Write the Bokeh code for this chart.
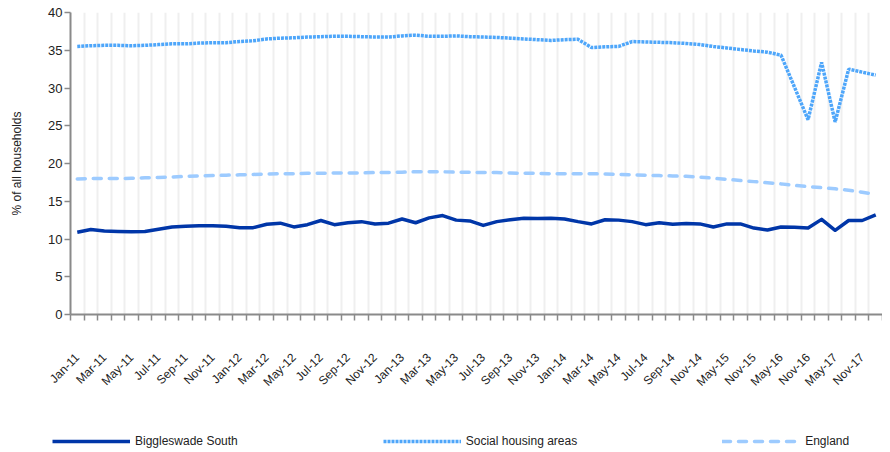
from math import pi
from bokeh.plotting import figure
from bokeh.layouts import column
from bokeh.models import Range1d, FixedTicker, SingleIntervalTicker, Legend, LegendItem
from bokeh.embed import file_html
from bokeh.resources import INLINE

months = [
    "Jan-11", "Feb-11", "Mar-11", "Apr-11", "May-11", "Jun-11", "Jul-11", "Aug-11", "Sep-11", "Oct-11", "Nov-11", "Dec-11",
    "Jan-12", "Feb-12", "Mar-12", "Apr-12", "May-12", "Jun-12", "Jul-12", "Aug-12", "Sep-12", "Oct-12", "Nov-12", "Dec-12",
    "Jan-13", "Feb-13", "Mar-13", "Apr-13", "May-13", "Jun-13", "Jul-13", "Aug-13", "Sep-13", "Oct-13", "Nov-13", "Dec-13",
    "Jan-14", "Feb-14", "Mar-14", "Apr-14", "May-14", "Jun-14", "Jul-14", "Aug-14", "Sep-14", "Oct-14", "Nov-14",
    "Feb-15", "May-15", "Aug-15", "Nov-15", "Feb-16", "May-16", "Aug-16", "Nov-16", "Feb-17", "May-17", "Aug-17",
    "Nov-17", "Feb-18",
]

biggleswade = [10.9, 11.25, 11.05, 11.0, 10.95, 11.0, 11.3, 11.6, 11.7, 11.75, 11.75, 11.7, 11.5, 11.5, 11.95,
               12.1, 11.6, 11.9, 12.45, 11.9, 12.15, 12.3, 12.0, 12.1, 12.65, 12.15, 12.8, 13.1, 12.5, 12.4,
               11.8, 12.3, 12.55, 12.75, 12.7, 12.75, 12.65, 12.3, 12.0, 12.55, 12.5, 12.3, 11.9, 12.15, 11.95,
               12.05, 12.0, 11.6, 12.0, 12.0, 11.45, 11.2, 11.6, 11.55, 11.45, 12.6, 11.15, 12.45, 12.45, 13.2]

social = [35.5, 35.6, 35.65, 35.65, 35.6, 35.65, 35.75, 35.85, 35.85, 35.95, 36.0, 36.0, 36.15, 36.25, 36.5,
          36.6, 36.65, 36.75, 36.8, 36.85, 36.85, 36.8, 36.75, 36.75, 36.9, 37.0, 36.85, 36.85, 36.9, 36.8,
          36.75, 36.7, 36.6, 36.5, 36.4, 36.3, 36.4, 36.45, 35.35, 35.45, 35.5, 36.15, 36.1, 36.05, 36.0,
          35.9, 35.75, 35.5, 35.3, 35.1, 34.9, 34.75, 34.35, 30.1, 25.8, 33.4, 25.5, 32.5, 32.1, 31.7]

england = [17.95, 18.0, 18.0, 18.0, 18.05, 18.1, 18.15, 18.2, 18.3, 18.35, 18.4, 18.45, 18.5, 18.55,
           18.6, 18.65, 18.65, 18.7, 18.7, 18.75, 18.75, 18.75, 18.8, 18.8, 18.85, 18.9, 18.9, 18.9,
           18.85, 18.85, 18.8, 18.8, 18.75, 18.7, 18.7, 18.65, 18.65, 18.65, 18.65, 18.6, 18.55,
           18.5, 18.45, 18.4, 18.35, 18.3, 18.2, 18.05, 17.9, 17.75, 17.6, 17.45, 17.3, 17.1, 16.95,
           16.8, 16.65, 16.45, 16.2, 15.9]

series_names = ["Biggleswade South", "Social housing areas", "England"]
series_values = [biggleswade, social, england]

FONT = "Liberation Sans"
TXT = "#222222"
AX = "#8a8a8a"

STYLES = [
    dict(line_color="#0036a8", line_width=3.5, line_join="round"),
    dict(line_color="#4ea6fa", line_width=3.5, line_dash="3 1"),
    dict(line_color="#9dcbff", line_width=3.5, line_dash="8 8", line_cap="round"),
]

n = len(months)
xs = [i + 0.5 for i in range(n)]

p = figure(width=882, height=420, output_backend="svg", toolbar_location=None,
           x_range=Range1d(0, n), y_range=Range1d(0, 40),
           min_border_left=70, min_border_right=0, min_border_top=12, min_border_bottom=106)
p.outline_line_color = None
p.background_fill_color = "white"

label_ticks = xs[::2]
xticker = FixedTicker(ticks=label_ticks, minor_ticks=list(range(n + 1)))
p.xaxis.ticker = xticker
p.xgrid.ticker = xticker
p.xaxis.major_label_overrides = {t: m for t, m in zip(label_ticks, months[::2])}
p.xaxis.major_label_orientation = pi / 4
p.xaxis.major_tick_line_color = None
p.xaxis.major_tick_out = 6
p.xaxis.major_tick_in = 0
p.xaxis.minor_tick_out = 6
p.xaxis.minor_tick_in = 0
p.xaxis.minor_tick_line_color = AX
p.xaxis.minor_tick_line_width = 1.5
p.xaxis.axis_line_color = AX
p.xaxis.axis_line_width = 2
p.xaxis.major_label_standoff = 35
p.xaxis.major_label_text_font = FONT
p.xaxis.major_label_text_font_size = "12px"
p.xaxis.major_label_text_color = TXT

p.xgrid.grid_line_color = None
p.xgrid.minor_grid_line_color = "#efefef"
p.xgrid.minor_grid_line_width = 2
p.ygrid.grid_line_color = None

p.yaxis.ticker = SingleIntervalTicker(interval=5, num_minor_ticks=0)
p.yaxis.axis_line_color = AX
p.yaxis.axis_line_width = 2
p.yaxis.major_tick_line_color = AX
p.yaxis.major_tick_line_width = 1.5
p.yaxis.major_tick_out = 6
p.yaxis.major_tick_in = 0
p.yaxis.minor_tick_line_color = None
p.yaxis.major_label_standoff = 2
p.yaxis.major_label_text_font = FONT
p.yaxis.major_label_text_font_size = "13px"
p.yaxis.major_label_text_color = TXT
p.yaxis.axis_label = "% of all households"
p.yaxis.axis_label_text_font = FONT
p.yaxis.axis_label_text_font_size = "12px"
p.yaxis.axis_label_text_font_style = "normal"
p.yaxis.axis_label_text_color = TXT
p.yaxis.axis_label_standoff = 21

for vals, style in reversed(list(zip(series_values, STYLES))):
    p.line(xs, vals, **style)

# legend strip below the chart (its renderers fall outside its own ranges, so only the legend shows)
lf = figure(width=882, height=30, output_backend="svg", toolbar_location=None,
            x_range=Range1d(-2, -1), y_range=Range1d(-2, -1),
            x_axis_type=None, y_axis_type=None, min_border=0)
lf.frame_align = False
lf.outline_line_color = None
lf.xgrid.visible = False
lf.ygrid.visible = False
legend_renderers = [lf.line(xs, vals, **s) for vals, s in zip(series_values, STYLES)]

legend = Legend(items=[LegendItem(label=name, renderers=[r]) for name, r in zip(series_names, legend_renderers)],
                orientation="horizontal", location=(52, 2),
                glyph_width=78, glyph_height=12, label_width=20, label_height=12,
                label_standoff=5, spacing=145, padding=0, margin=0,
                border_line_color=None, background_fill_alpha=0,
                label_text_font=FONT, label_text_font_size="12px", label_text_color=TXT)
lf.add_layout(legend)

layout = column(p, lf, spacing=0)
open("out.html", "w").write(file_html(layout, INLINE))
